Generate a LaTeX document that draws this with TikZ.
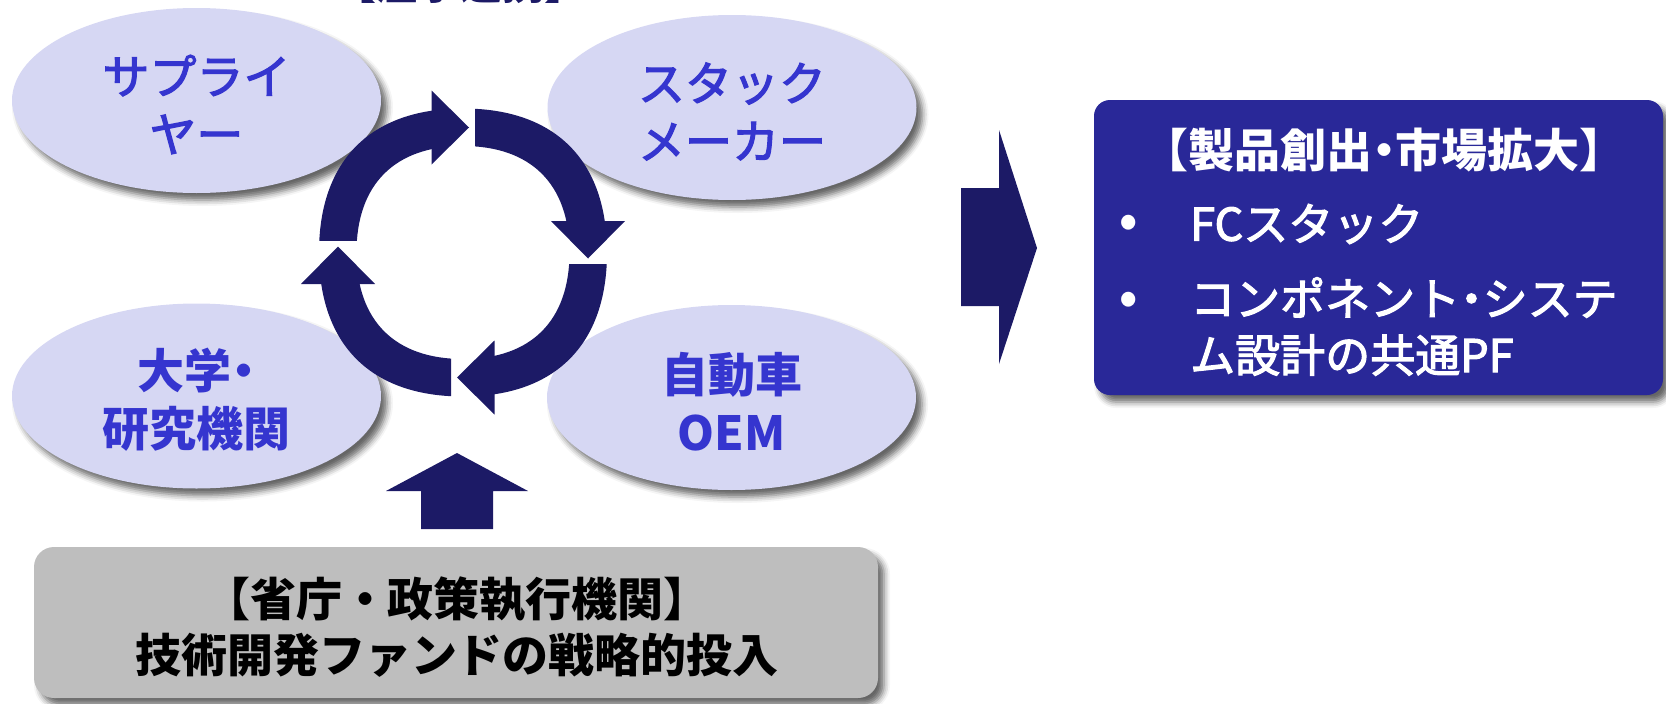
\documentclass[tikz,border=0pt]{standalone}
\usepackage{fontspec}
\newfontfamily\jp{Noto Sans CJK JP}
\newfontfamily\jpm{Noto Sans CJK JP}[FakeBold=2.5]
\usetikzlibrary{shapes.geometric,shadows.blur}
\definecolor{navy}{RGB}{28,26,102}
\definecolor{bubfill}{RGB}{214,215,243}
\definecolor{bubtext}{RGB}{53,53,207}
\definecolor{boxblue}{RGB}{41,40,152}
\definecolor{boxgray}{RGB}{190,190,190}
\newcommand\nd{\makebox[0.5em][c]{・}}
\begin{document}
\begin{tikzpicture}[x=1pt,y=-1pt,
  softshadow/.style={blur shadow={shadow xshift=6pt, shadow yshift=-7pt, shadow blur radius=6pt, shadow opacity=60}},
  bubble/.style={ellipse, fill=bubfill, minimum width=369pt, minimum height=185pt, inner sep=0pt, softshadow},
  bubtxt/.style={text=bubtext, align=center, font=\jpm\fontsize{47}{58}\selectfont, inner sep=0pt},
  bubtxtb/.style={bubtxt, font=\jp\bfseries\fontsize{47}{58}\selectfont},
  bluebox/.style={rectangle, rounded corners=16pt, fill=boxblue, minimum width=569pt, minimum height=295pt, inner sep=0pt, softshadow},
  graybox/.style={rectangle, rounded corners=20pt, fill=boxgray, minimum width=844pt, minimum height=151pt, inner sep=0pt, softshadow},
  wtxt/.style={text=white, inner sep=0pt, font=\jpm\fontsize{45}{50}\selectfont},
  blockarrow/.style={fill=navy}
]
\useasboundingbox (0,0) rectangle (1666,704);
\clip (0,0) rectangle (1666,704);

% partly visible heading at the top edge
\node[anchor=base, inner sep=0pt, text=navy, font=\jp\bfseries\fontsize{42}{42}\selectfont] (head) at (460,-1) {【産学連携】};

% bubbles
\node[bubble] (sup) at (196.5,100.5) {};
\node[bubble] (stk) at (732,107.5) {};
\node[bubble] (uni) at (196.5,396) {};
\node[bubble] (oem) at (731.5,397.5) {};
\node[bubtxt]  (supT) at ([yshift=-4pt]sup.center) {サプライ\\ヤー};
\node[bubtxt]  (stkT) at ([yshift=-4pt]stk.center) {スタック\\メーカー};
\node[bubtxtb] (uniT) at ([yshift=-4pt]uni.center) {大学\nd\\研究機関};
\node[bubtxtb] (oemT) at ([yshift=-4pt]oem.center) {自動車\\OEM};

% cycle of four arrows
\begin{scope}[shift={(463,252.5)}]
  \foreach \ax/\ay/\bx/\by in {-200/-200/-30.5/-12, 12/-200/200/-30.5, 30.5/12/200/200, -200/30.5/-12/200}{
    \begin{scope}
      \clip (\ax,\ay) rectangle (\bx,\by);
      \fill[navy, even odd rule]
        (144,0) .. controls (144,92.16) and (92.16,144) .. (0,144)
                .. controls (-92.16,144) and (-144,92.16) .. (-144,0)
                .. controls (-144,-92.16) and (-92.16,-144) .. (0,-144)
                .. controls (92.16,-144) and (144,-92.16) .. (144,0) -- cycle
        (106.5,0) .. controls (106.5,68.16) and (68.16,106.5) .. (0,106.5)
                .. controls (-68.16,106.5) and (-106.5,68.16) .. (-106.5,0)
                .. controls (-106.5,-68.16) and (-68.16,-106.5) .. (0,-106.5)
                .. controls (68.16,-106.5) and (106.5,-68.16) .. (106.5,0) -- cycle;
    \end{scope}
  }
  \fill[navy] (-31.5,-162) -- (-31.5,-88) -- (6,-125) -- cycle;
  \fill[navy] (88,-31.5) -- (162,-31.5) -- (125,6) -- cycle;
  \fill[navy] (31.5,88) -- (31.5,162) -- (-6,125) -- cycle;
  \fill[navy] (-88,31.5) -- (-162,31.5) -- (-125,-6) -- cycle;
\end{scope}

% result box
\node[bluebox] (res) at (1378.5,247.5) {};
\node[wtxt, font=\jp\bfseries\fontsize{46}{50}\selectfont] (resT) at (1384,150) {【製品創出\nd 市場拡大】};
\node[wtxt, font=\jp\bfseries\fontsize{46}{50}\selectfont] (dot1) at (1129,226) {•};
\node[wtxt, font=\jp\bfseries\fontsize{46}{50}\selectfont] (dot2) at (1129,303) {•};
\node[wtxt, anchor=west] (item1) at (1190,224) {FCスタック};
\node[wtxt, anchor=west] (item2a) at (1190,297.5) {コンポネント\nd システ};
\node[wtxt, anchor=west] (item2b) at (1190,355) {ム設計の共通PF};

% big arrow to the right
\fill[blockarrow] (961,188) -- (999,188) -- (999,130) -- (1037,248) -- (999,364) -- (999,306) -- (961,306) -- cycle;

% government box
\node[graybox] (gov) at (456,622.5) {};
\node[inner sep=0pt, align=center, font=\jp\bfseries\fontsize{46}{56.5}\selectfont] (govT) at (457,627) {【省庁・政策執行機関】\\技術開発ファンドの戦略的投入};

% up arrow
\fill[blockarrow] (421,529) -- (421,491) -- (386,491) -- (457,453) -- (528,491) -- (493,491) -- (493,529) -- cycle;
\end{tikzpicture}
\end{document}
